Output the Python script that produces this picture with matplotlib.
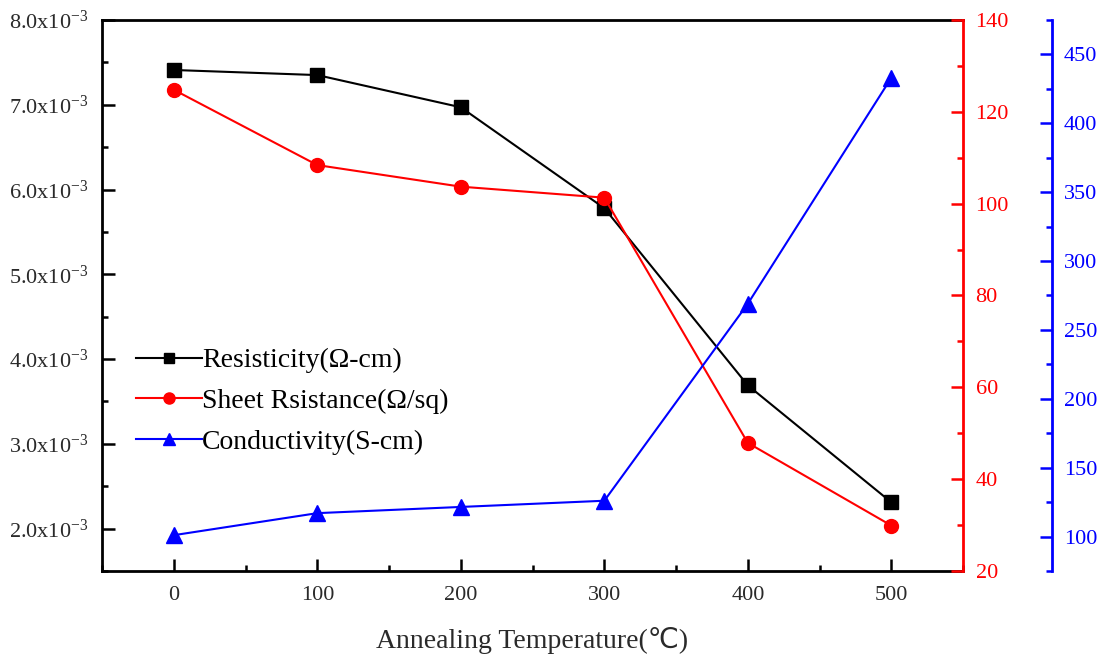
import numpy as np
import matplotlib
matplotlib.use("Agg")
import matplotlib.pyplot as plt
from matplotlib.ticker import MultipleLocator, FuncFormatter

plt.rcParams['font.family'] = ['Liberation Serif', 'DejaVu Sans']
plt.rcParams['mathtext.default'] = 'regular'
plt.rcParams['axes.unicode_minus'] = False

temps = [0, 100, 200, 300, 400, 500]
resistivity = [7.41e-3, 7.35e-3, 6.97e-3, 5.78e-3, 3.69e-3, 2.31e-3]
sheet_res = [124.8, 108.4, 103.7, 101.3, 47.9, 29.9]
conductivity = [101, 117, 121.5, 126, 269, 433]

fig = plt.figure(figsize=(11.08, 6.57), dpi=100)
ax = fig.add_axes([0.0921, 0.1309, 0.7771, 0.8387])
ax2 = ax.twinx()
ax3 = ax.twinx()

l1, = ax.plot(temps, resistivity, color='black', marker='s', ms=9.5, lw=1.5,
              label='Resisticity(Ω-cm)')
l2, = ax2.plot(temps, sheet_res, color='red', marker='o', ms=10, lw=1.5,
               label='Sheet Rsistance(Ω/sq)')
l3, = ax3.plot(temps, conductivity, color='blue', marker='^', ms=11, lw=1.5,
               label='Conductivity(S-cm)')

# host axis
ax.set_xlim(-50, 550)
ax.set_ylim(1.5e-3, 8.0e-3)
ax.xaxis.set_major_locator(MultipleLocator(100))
ax.xaxis.set_minor_locator(MultipleLocator(50))
ax.yaxis.set_major_locator(MultipleLocator(1e-3))
ax.yaxis.set_minor_locator(MultipleLocator(0.5e-3))
ax.yaxis.set_major_formatter(FuncFormatter(lambda v, p: "%.1fx10$^{-3}$" % (v * 1e3)))
ax.tick_params(which='both', direction='in', width=1.8, labelsize=16,
               labelcolor='#2a2a2a', top=False, right=False)
ax.tick_params(which='major', length=9)
ax.tick_params(which='minor', length=4.5)
ax.tick_params(axis='x', pad=11)
ax.tick_params(axis='y', pad=10)
for s in ['left', 'bottom', 'top']:
    ax.spines[s].set_linewidth(2)
ax.spines['right'].set_visible(False)
ax.set_xlabel('Annealing Temperature(℃)', fontsize=20, color='#2a2a2a', labelpad=16)

# red axis
ax2.set_ylim(20, 140)
ax2.yaxis.set_major_locator(MultipleLocator(20))
ax2.yaxis.set_minor_locator(MultipleLocator(10))
for s in ['left', 'bottom', 'top']:
    ax2.spines[s].set_visible(False)
ax2.spines['right'].set_color('red')
ax2.spines['right'].set_linewidth(2)
ax2.tick_params(which='both', direction='in', width=1.8, color='red',
                labelcolor='red', labelsize=16, pad=9)
ax2.tick_params(which='major', length=9)
ax2.tick_params(which='minor', length=4.5)

# blue axis
ax3.set_ylim(75, 475)
ax3.yaxis.set_major_locator(MultipleLocator(50))
ax3.yaxis.set_minor_locator(MultipleLocator(25))
for s in ['left', 'bottom', 'top']:
    ax3.spines[s].set_visible(False)
ax3.spines['right'].set_position(('axes', 1.1034))
ax3.spines['right'].set_color('blue')
ax3.spines['right'].set_linewidth(2)
ax3.tick_params(which='both', direction='in', width=1.8, color='blue',
                labelcolor='blue', labelsize=16, pad=8.5)
ax3.tick_params(which='major', length=9)
ax3.tick_params(which='minor', length=4.5)

ax3.legend(handles=[l1, l2, l3], loc='upper left', bbox_to_anchor=(0.026, 0.425),
           frameon=False, fontsize=20, handlelength=2.4, handletextpad=0.0,
           labelspacing=0.55, borderaxespad=0, markerscale=0.8)

fig.savefig('out.png', dpi=100)
